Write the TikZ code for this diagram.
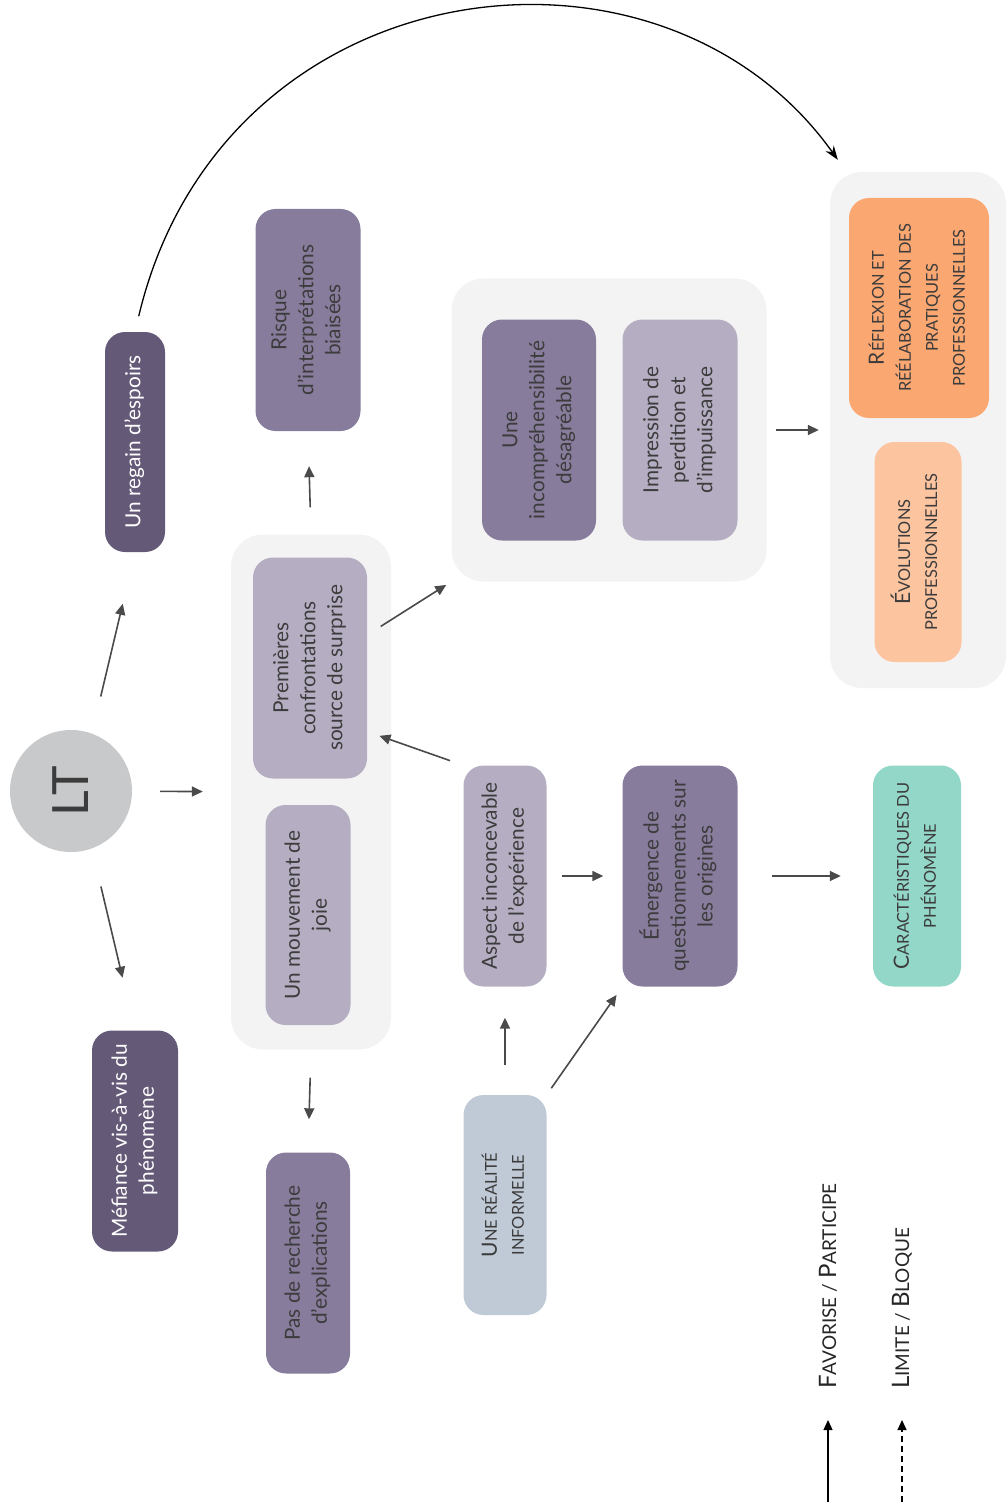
\documentclass[tikz,border=0pt]{standalone}
\usepackage{fontspec}
\setmainfont{Lato}
\usepackage{graphicx}
\usetikzlibrary{arrows.meta}
\usepackage{xcolor}

\definecolor{darkpurple}{HTML}{645A78}
\definecolor{midpurple}{HTML}{877C9C}
\definecolor{lightpurple}{HTML}{B5AEC3}
\definecolor{groupgray}{HTML}{F3F3F3}
\definecolor{bluegray}{HTML}{C0CAD6}
\definecolor{orangedeep}{HTML}{FBA772}
\definecolor{orangesoft}{HTML}{FDC4A0}
\definecolor{tealsoft}{HTML}{93D7C8}
\definecolor{ltgray}{HTML}{C8C9CB}
\definecolor{arrgray}{HTML}{4A4A4A}
\definecolor{txtgray}{HTML}{3C3C3C}

% rotated text block, read from bottom to top
\newcommand{\vtext}[1]{\rotatebox{90}{\begin{tabular}{@{}c@{}}#1\end{tabular}}}
% fake small caps
\newcommand{\scbig}[1]{{\fontsize{21}{27}\selectfont #1}}
\newcommand{\scsm}[1]{{\fontsize{16.4}{27}\selectfont #1}}
\newcommand{\legbig}[1]{{\fontsize{24}{27}\selectfont #1}}
\newcommand{\legsm}[1]{{\fontsize{19}{27}\selectfont #1}}

\begin{document}
\begin{tikzpicture}[
  x=1pt, y=-1pt,
  box/.style={rounded corners=20pt, inner sep=0pt, text=txtgray, font=\fontsize{20.8}{27}\selectfont},
  group/.style={rounded corners=32pt, fill=groupgray, inner sep=0pt},
  arr/.style={-{Triangle[length=11pt,width=10pt]}, line width=1.6pt, draw=arrgray},
  legarr/.style={-{Triangle[length=10pt,width=9pt]}, line width=1.3pt, draw=black}
]
  \useasboundingbox (0,0) rectangle (1008,1511);

  % groups
  \node[group, minimum width=160pt, minimum height=515pt] (grp1) at (311,792) {};
  \node[group, minimum width=315pt, minimum height=303pt] (grp2) at (609,430) {};
  \node[group, minimum width=176pt, minimum height=516pt] (grp3) at (918,430) {};

  % boxes
  \node[circle, fill=ltgray, minimum size=122pt, inner sep=0pt, text=txtgray,
        font=\fontsize{50}{50}\selectfont] (lt) at (71,791) {\rotatebox{90}{LT}};
  \node[box, fill=darkpurple, text=white, minimum width=60pt, minimum height=220pt] (regain) at (135,442) {\vtext{Un regain d'espoirs}};
  \node[box, fill=darkpurple, text=white, minimum width=86pt, minimum height=221pt] (mefiance) at (135,1141) {\vtext{Méfiance vis-à-vis du\\phénomène}};
  \node[box, fill=midpurple, minimum width=105pt, minimum height=222pt] (risque) at (308,320) {\vtext{Risque\\d'interprétations\\biaisées}};
  \node[box, fill=lightpurple, minimum width=114pt, minimum height=221pt] (premieres) at (310,668) {\vtext{Premières\\confrontations\\source de surprise}};
  \node[box, fill=lightpurple, minimum width=85pt, minimum height=220pt] (joie) at (308,915) {\vtext{Un mouvement de\\joie}};
  \node[box, fill=midpurple, minimum width=84pt, minimum height=221pt] (pas) at (308,1263) {\vtext{Pas de recherche\\d'explications}};
  \node[box, fill=midpurple, minimum width=114pt, minimum height=221pt] (incomp) at (539,430) {\vtext{Une\\incompréhensibilité\\désagréable}};
  \node[box, fill=lightpurple, minimum width=115pt, minimum height=221pt] (impression) at (680,430) {\vtext{Impression de\\perdition et\\d'impuissance}};
  \node[box, fill=lightpurple, minimum width=83pt, minimum height=221pt] (aspect) at (505,876) {\vtext{Aspect inconcevable\\de l'expérience}};
  \node[box, fill=midpurple, minimum width=115pt, minimum height=221pt] (emergence) at (680,876) {\vtext{Émergence de\\questionnements sur\\les origines}};
  \node[box, fill=bluegray, minimum width=83pt, minimum height=220pt] (realite) at (505,1205) {\vtext{\scbig{U}\scsm{NE RÉALITÉ}\\\scsm{INFORMELLE}}};
  \node[box, fill=orangedeep, minimum width=140pt, minimum height=220pt] (reflexion) at (919,308) {\vtext{\scbig{R}\scsm{ÉFLEXION ET}\\\scsm{RÉÉLABORATION DES}\\\scsm{PRATIQUES}\\\scsm{PROFESSIONNELLES}}};
  \node[box, fill=orangesoft, minimum width=87pt, minimum height=220pt] (evolutions) at (918,552) {\vtext{\scbig{É}\scsm{VOLUTIONS}\\\scsm{PROFESSIONNELLES}}};
  \node[box, fill=tealsoft, minimum width=88pt, minimum height=221pt] (caract) at (917,876) {\vtext{\scbig{C}\scsm{ARACTÉRISTIQUES DU}\\\scsm{PHÉNOMÈNE}}};

  % connectors
  \draw[arr, shorten <=28pt, shorten >=28pt] (lt) -- (grp1);
  \draw[arr, shorten <=38pt, shorten >=53pt] (lt.70) -- (regain.south);
  \draw[arr, shorten <=39pt, shorten >=54pt] (lt.-70) -- (mefiance.north);
  \draw[arr, shorten <=27pt, shorten >=35pt] (grp1.north) -- (risque.south);
  \draw[arr, shorten <=28pt, shorten >=33pt] (grp1.south) -- (pas.north);
  \draw[arr, shorten <=16pt, shorten >=6pt] (premieres.30) -- (grp2.south west);
  \draw[arr, shorten <=14pt, shorten >=13pt] (aspect.north west) -- (premieres.-48);
  \draw[arr, shorten <=15pt, shorten >=19pt] (aspect) -- (emergence);
  \draw[arr, shorten <=30pt, shorten >=31pt] (realite) -- (aspect);
  \draw[arr, shorten <=8pt, shorten >=10pt] (realite.north east) -- (emergence.south west);
  \draw[arr, shorten <=9pt, shorten >=11pt] (grp2) -- (grp3);
  \draw[arr, shorten <=34pt, shorten >=32pt] (emergence) -- (caract);
  \draw[-{Stealth[length=14pt,width=10pt]}, line width=1.3pt, shorten <=16pt]
    (regain.north) .. controls (222,-34) and (660,-90) .. ([xshift=8pt,yshift=12pt]grp3.north west);

  % legend
  \coordinate (favs) at (828,1502);
  \coordinate (fave) at (828,1420);
  \coordinate (lims) at (902,1502);
  \coordinate (lime) at (902,1420);
  \draw[legarr] (favs) -- (fave);
  \draw[legarr, dash pattern=on 6pt off 4pt] (lims) -- (lime);
  \node[anchor=south, inner sep=0pt, text=black!85] (favtxt) at (828,1389) {\rotatebox{90}{\legbig{F}\legsm{AVORISE / }\legbig{P}\legsm{ARTICIPE}}};
  \node[anchor=south, inner sep=0pt, text=black!85] (limtxt) at (902,1389) {\rotatebox{90}{\legbig{L}\legsm{IMITE / }\legbig{B}\legsm{LOQUE}}};
\end{tikzpicture}
\end{document}
